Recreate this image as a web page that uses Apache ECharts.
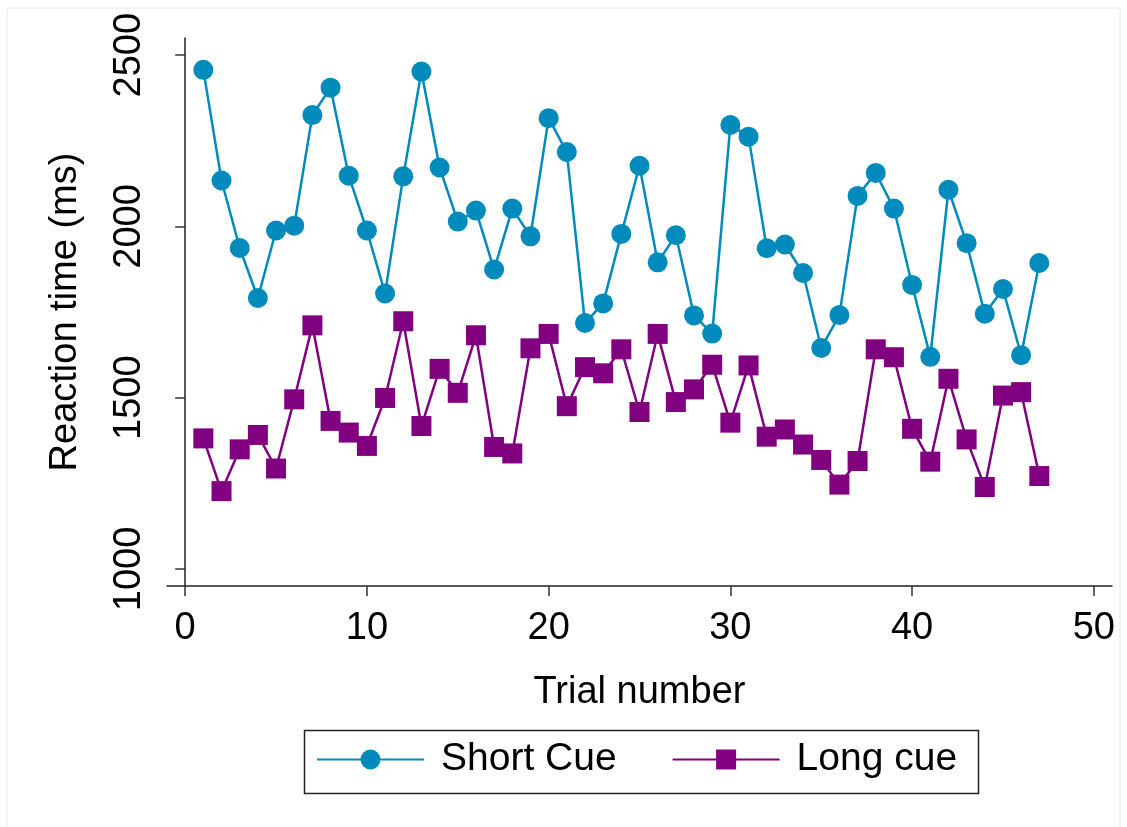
<!DOCTYPE html>
<html>
<head>
<meta charset="utf-8">
<title>Reaction time by trial</title>
<script src="https://cdn.jsdelivr.net/npm/echarts@6/dist/echarts.min.js"></script>
<style>
    html, body { margin: 0; padding: 0; background: #fff; }
    #chart { width: 1127px; height: 827px; }
</style>
</head>
<body>
<div id="chart"></div>
<script>
// trial numbers (x)
const trials = [1, 2, 3, 4, 5, 6, 7, 8, 9, 10, 11, 12, 13, 14, 15, 16, 17, 18, 19, 20,
    21, 22, 23, 24, 25, 26, 27, 28, 29, 30, 31, 32, 33, 34, 35, 36, 37, 38, 39, 40,
    41, 42, 43, 44, 45, 46, 47];

// reaction times (ms)
const shortCue = [2457, 2134, 1937, 1791, 1988, 2002, 2325, 2405, 2148, 1988,
    1804, 2146, 2452, 2172, 2014, 2046, 1874, 2052, 1971, 2316,
    2217, 1718, 1775, 1978, 2177, 1895, 1974, 1740, 1687, 2296,
    2262, 1936, 1947, 1864, 1645, 1741, 2089, 2156, 2052, 1829,
    1619, 2107, 1951, 1745, 1817, 1624, 1893];
const longCue = [1381, 1227, 1349, 1391, 1293, 1495, 1711, 1432, 1398, 1359,
    1499, 1723, 1417, 1584, 1514, 1682, 1356, 1337, 1644, 1686,
    1475, 1589, 1571, 1641, 1458, 1686, 1487, 1524, 1596, 1427,
    1594, 1386, 1407, 1363, 1318, 1246, 1315, 1641, 1618, 1409,
    1313, 1555, 1378, 1239, 1506, 1516, 1271];

const xTicks = [0, 10, 20, 30, 40, 50];
const yTicks = [1000, 1500, 2000, 2500];

const FONT = "'Liberation Sans', Arial, sans-serif";
const BLUE = '#008bbc';
const PURPLE = '#800080';

const chart = echarts.init(document.getElementById('chart'));

const option = {
    backgroundColor: '#fff',
    animation: false,
    grid: {
        left: 167,
        right: 15,
        top: 38,
        bottom: 241
    },
    graphic: [
        {
            // faint outer frame
            type: 'rect',
            shape: { x: 7, y: 8, width: 1113, height: 830 },
            style: { fill: 'none', stroke: '#e4eaec', lineWidth: 1 },
            silent: true
        },
        {
            // legend box
            type: 'rect',
            shape: { x: 304.5, y: 730.5, width: 674, height: 63 },
            style: { fill: 'none', stroke: '#222', lineWidth: 1.5 },
            silent: true
        }
    ],
    legend: {
        left: 316,
        top: 740,
        itemWidth: 107,
        itemHeight: 25,
        itemGap: 55,
        padding: 0,
        textStyle: {
            fontFamily: FONT,
            fontSize: 39,
            color: '#000',
            padding: [0, 0, 0, 12]
        },
        data: ['Short Cue', 'Long cue']
    },
    xAxis: {
        type: 'value',
        min: -1,
        max: 51,
        name: 'Trial number',
        nameLocation: 'middle',
        nameGap: 88,
        nameTextStyle: { fontFamily: FONT, fontSize: 38, color: '#000' },
        axisLine: { show: true, lineStyle: { color: '#222', width: 1.5 } },
        axisTick: {
            show: true,
            length: 10,
            customValues: xTicks,
            lineStyle: { color: '#333', width: 1.5 }
        },
        axisLabel: {
            customValues: xTicks,
            margin: 24,
            fontFamily: FONT,
            fontSize: 38,
            color: '#000',
            formatter: (v) => String(v)
        },
        splitLine: { show: false }
    },
    yAxis: {
        type: 'value',
        min: 950,
        max: 2550,
        name: 'Reaction time (ms)',
        nameLocation: 'middle',
        nameGap: 82,
        nameTextStyle: { fontFamily: FONT, fontSize: 38, color: '#000' },
        axisLine: { show: true, lineStyle: { color: '#222', width: 1.5 } },
        axisTick: {
            show: true,
            length: 10,
            customValues: yTicks,
            lineStyle: { color: '#333', width: 1.5 }
        },
        axisLabel: {
            customValues: yTicks,
            rotate: 90,
            margin: 18,
            fontFamily: FONT,
            fontSize: 38,
            color: '#000',
            formatter: (v) => String(v)
        },
        splitLine: { show: false }
    },
    series: [
        {
            name: 'Short Cue',
            type: 'line',
            data: trials.map((t, i) => [t, shortCue[i]]),
            symbol: 'circle',
            symbolSize: 20,
            showAllSymbol: true,
            lineStyle: { color: BLUE, width: 2.5 },
            itemStyle: { color: BLUE }
        },
        {
            name: 'Long cue',
            type: 'line',
            data: trials.map((t, i) => [t, longCue[i]]),
            symbol: 'rect',
            symbolSize: 20,
            showAllSymbol: true,
            lineStyle: { color: PURPLE, width: 2.5 },
            itemStyle: { color: PURPLE }
        }
    ]
};

chart.setOption(option);
</script>
</body>
</html>
